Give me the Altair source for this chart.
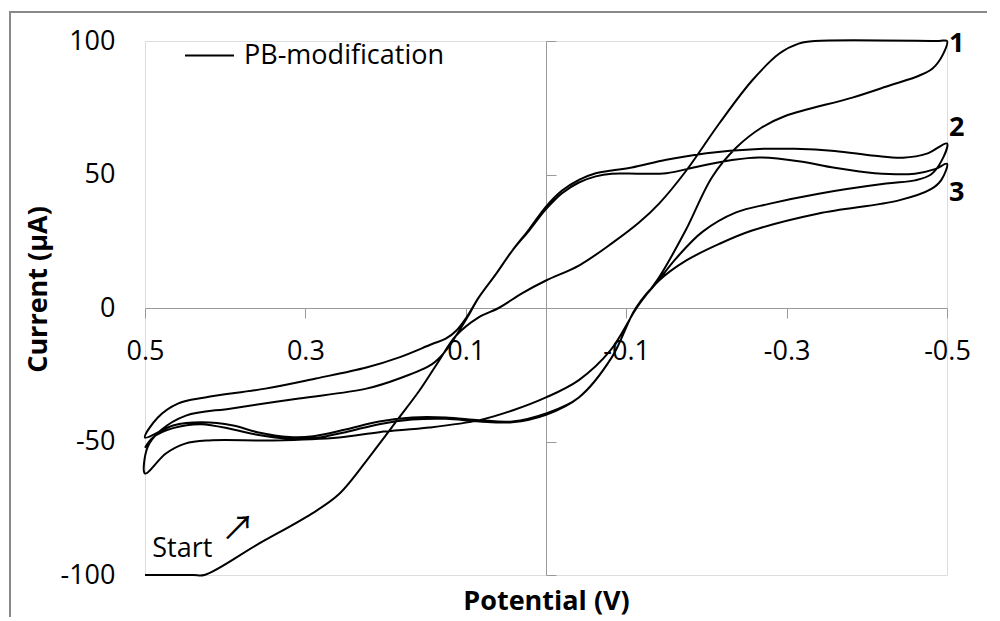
import altair as alt
import pandas as pd

# ---- data (potential in V, current in uA) ----
# cycle 1 forward sweep
f1_v = [0.5, 0.44, 0.426, 0.36, 0.292, 0.258, 0.217, 0.183, 0.158, 0.135, 0.112, 0.084,
        0.059, 0.03, 0.0, -0.041, -0.082, -0.116, -0.141, -0.175, -0.216, -0.257, -0.291,
        -0.315, -0.335, -0.49, -0.5]
f1_i = [-100, -100, -100, -88.6, -77, -69.7, -54.5, -41, -31, -20.5, -10.3, -3.5,
        0, 5.5, 10.3, 15.9, 24.2, 32, 39.1, 51.5, 69.1, 85.2, 95.3,
        99, 100, 100, 100]
# cycle 1 reverse sweep
r1_v = [-0.5, -0.495, -0.482, -0.465, -0.43, -0.382, -0.299, -0.269, -0.237, -0.207, -0.174,
        -0.141, -0.113, -0.08, -0.041, 0.0, 0.042, 0.083, 0.146, 0.208, 0.258, 0.34, 0.42,
        0.45, 0.474, 0.5]
r1_i = [100, 95, 89.7, 87, 83.5, 78.8, 72, 67.6, 60, 49, 29,
        11.5, 0, -16, -27, -33.5, -38.4, -42, -44.8, -46.5, -48.5, -49.6, -49.6,
        -50.8, -54.5, -62]
# cycle 2 forward sweep
f2_v = [0.5, 0.497, 0.481, 0.449, 0.392, 0.308, 0.224, 0.183, 0.142, 0.125, 0.112, 0.098,
        0.084, 0.062, 0.042, 0.021, 0.0, -0.02, -0.041, -0.062, -0.082, -0.107, -0.15, -0.2,
        -0.26, -0.31, -0.36, -0.41, -0.445, -0.475, -0.5]
f2_i = [-62, -52.3, -46, -40.3, -37.6, -33.9, -30.2, -26.4, -21, -16, -10.3, -3.5,
        3.9, 12.9, 21.5, 29.5, 38, 44, 48, 50.5, 51.5, 52.6, 55.5, 58,
        59.5, 59.6, 58.8, 57, 56.3, 57.8, 61.6]
# cycle 2 reverse sweep
r2_v = [-0.5, -0.493, -0.48, -0.46, -0.424, -0.34, -0.278, -0.237, -0.195, -0.162, -0.137,
        -0.112, -0.082, -0.041, 0.0, 0.042, 0.083, 0.125, 0.167, 0.208, 0.25, 0.29, 0.32,
        0.36, 0.39, 0.43, 0.465, 0.5]
r2_i = [61.6, 55, 50, 47.8, 46.6, 42.8, 39, 35.8, 28.5, 18.5, 9.1,
        0, -18.5, -33.5, -39.5, -42.5, -42, -41, -41, -42.5, -45.5, -48, -48.3,
        -46.5, -44, -42.8, -44, -48.5]
# cycle 3 forward sweep
f3_v = [0.5, 0.484, 0.459, 0.425, 0.35, 0.287, 0.224, 0.183, 0.142, 0.125, 0.112, 0.098,
        0.084, 0.062, 0.042, 0.021, 0.0, -0.02, -0.041, -0.062, -0.082, -0.116, -0.15, -0.19,
        -0.23, -0.265, -0.315, -0.36, -0.41, -0.46, -0.485, -0.5]
f3_i = [-48.5, -41, -35.8, -33.5, -30.2, -26.4, -22.3, -18.5, -13.5, -11.5, -8.5, -3,
        3.9, 12.9, 21.5, 29, 37, 43, 47, 49.3, 50.3, 50.3, 50.5, 53,
        55.3, 56.4, 55, 52.5, 50.5, 50.3, 52, 54]
# cycle 3 reverse sweep
r3_v = [-0.5, -0.493, -0.48, -0.44, -0.34, -0.257, -0.216, -0.175, -0.141, -0.112, -0.082,
        -0.041, 0.0, 0.042, 0.083, 0.125, 0.167, 0.208, 0.25, 0.29, 0.32, 0.36, 0.39,
        0.43, 0.465, 0.49, 0.5]
r3_i = [54, 48, 44.5, 40.3, 35.4, 29, 24, 17.8, 10.3, 0, -18.5,
        -33.5, -40, -42.8, -42.5, -41.5, -41.8, -43.5, -46.5, -48.8, -49, -47.5, -45.5,
        -43.5, -45, -48.5, -52.3]

series_name = "PB-modification"
x_ticks = [0.5, 0.3, 0.1, -0.1, -0.3, -0.5]
y_ticks = [100, 50, 0, -50, -100]

cycle_labels = ["1", "2", "3"]
cycle_label_v = [-0.5, -0.5, -0.5]
cycle_label_i = [99.0, 67.6, 43.0]

start_text = ["Start"]
start_v = [0.491]
start_i = [-93.4]
arrow_text = ["\u2197"]
arrow_v = [0.384]
arrow_i = [-83.3]

# ---- build table ----
rows = []
k = 0
for vs, cs in [(f1_v, f1_i), (r1_v, r1_i), (f2_v, f2_i), (r2_v, r2_i),
               (f3_v, f3_i), (r3_v, r3_i)]:
    for j, (v, c) in enumerate(zip(vs, cs)):
        if rows and j == 0:
            continue
        rows.append({"potential": v, "current": c, "order": k, "series": series_name})
        k += 1
df = pd.DataFrame(rows)

lab_df = pd.DataFrame({"t": cycle_labels, "v": cycle_label_v, "i": cycle_label_i})
start_df = pd.DataFrame({"t": start_text, "v": start_v, "i": start_i})
arrow_df = pd.DataFrame({"t": arrow_text, "v": arrow_v, "i": arrow_i})

FONT = "Open Sans"
AXC = "#9a9a9a"
W, H = 802, 534

xs = alt.Scale(domain=[-0.5, 0.5], reverse=True, nice=False, zero=False)
ys = alt.Scale(domain=[-100, 100], nice=False, zero=False)

x_axis = alt.Axis(values=x_ticks, offset=-H / 2, tickSize=10, tickColor=AXC, domainColor=AXC,
                  domainWidth=1, tickWidth=1, grid=False,
                  labelExpr="(datum.value < 0 ? '-' : '') + format(abs(datum.value), '.1f')",
                  labelFont=FONT, labelFontSize=27, labelColor="black", labelPadding=20,
                  labelFlush=False, labelOverlap=False,
                  title="Potential (V)", titleFont=FONT, titleFontSize=27, titleFontWeight="bold",
                  titleColor="black", titleX=W / 2, titleY=301.5, titleBaseline="alphabetic",
                  titleAlign="center")

y_axis_left = alt.Axis(values=y_ticks, domain=False, ticks=False, tickSize=0, grid=False,
                       labelExpr="(datum.value < 0 ? '-' : '') + format(abs(datum.value), 'd')",
                       labelFont=FONT, labelFontSize=27, labelColor="black", labelPadding=30,
                       labelFlush=False, labelOverlap=False,
                       title="Current (\u00b5A)", titleFont=FONT, titleFontSize=27,
                       titleFontWeight="bold", titleColor="black", titleAngle=270,
                       titleX=-99, titleY=248, titleBaseline="alphabetic", titleAlign="center")

y_axis_zero = alt.Axis(values=y_ticks, orient="right", offset=-W / 2, labels=False,
                       tickSize=10, tickColor=AXC, domainColor=AXC, domainWidth=1, tickWidth=1,
                       grid=False, title=None)

frame = alt.Chart(pd.DataFrame({"a": [0]})).mark_rect(
    fillOpacity=0, stroke="#898989", strokeWidth=2
).encode(x=alt.value(-135), x2=alt.value(1300), y=alt.value(-29), y2=alt.value(1000))

line = alt.Chart(df).mark_line(interpolate="catmull-rom", strokeWidth=2).encode(
    x=alt.X("potential:Q", scale=xs, axis=x_axis),
    y=alt.Y("current:Q", scale=ys, axis=y_axis_left),
    order="order:Q",
    color=alt.Color("series:N", scale=alt.Scale(range=["black"]),
                    legend=alt.Legend(title=None, orient="none", legendX=39, legendY=-11,
                                      symbolType="stroke", symbolSize=2401,
                                      symbolStrokeWidth=2, labelFont=FONT, labelFontSize=27,
                                      labelColor="black", labelOffset=9, padding=0,
                                      labelLimit=500)),
)

labels = alt.Chart(lab_df).mark_text(
    font=FONT, fontSize=27, fontWeight="bold", align="left", baseline="middle", dx=2,
    color="black"
).encode(
    x=alt.X("v:Q", scale=xs, axis=x_axis),
    y=alt.Y("i:Q", scale=ys, axis=y_axis_zero),
    text="t:N",
)

start = alt.Chart(start_df).mark_text(
    font=FONT, fontSize=27, align="left", baseline="alphabetic", color="black"
).encode(
    x=alt.X("v:Q", scale=xs, axis=x_axis),
    y=alt.Y("i:Q", scale=ys, axis=None),
    text="t:N",
)

arrow = alt.Chart(arrow_df).mark_text(
    font="Noto Sans CJK JP", fontSize=34, align="center", baseline="middle", color="black"
).encode(
    x=alt.X("v:Q", scale=xs, axis=x_axis),
    y=alt.Y("i:Q", scale=ys, axis=None),
    text="t:N",
)

chart = alt.layer(frame, line, labels, start, arrow).resolve_axis(y="independent").properties(
    width=W, height=H,
    autosize=alt.AutoSizeParams(type="none"),
    padding={"left": 137, "top": 33, "right": 40, "bottom": 42},
).configure_view(strokeWidth=0).configure(font=FONT)

chart.save("out.html", embed_options={"renderer": "svg", "actions": False})
